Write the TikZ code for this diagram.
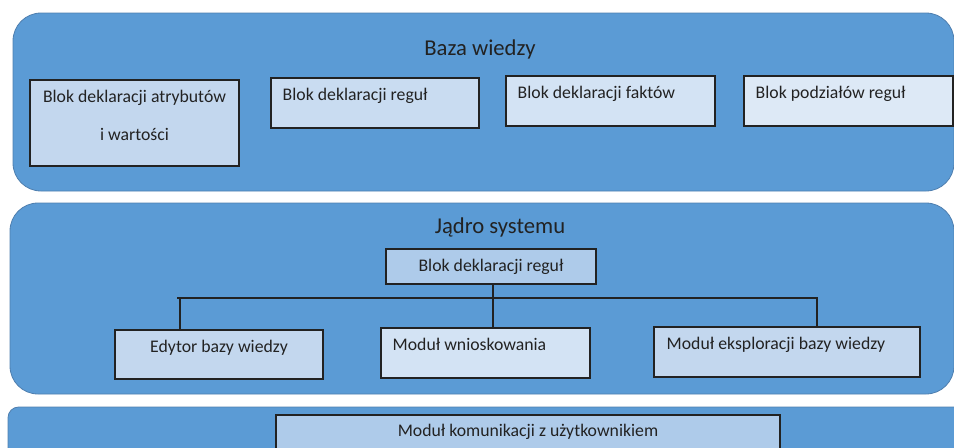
\documentclass[tikz,border=0pt]{standalone}
\usepackage{fontspec}
\setmainfont{Carlito}
\usepackage{tikz}
\usetikzlibrary{positioning}
\definecolor{panel}{HTML}{5B9BD5}
\definecolor{rim}{HTML}{4F7FAF}
\definecolor{ink}{HTML}{222222}
\definecolor{tintA}{HTML}{C3D7EE}
\definecolor{tintB}{HTML}{C9DCF1}
\definecolor{tintC}{HTML}{D3E3F4}
\definecolor{tintD}{HTML}{DDE9F6}
\definecolor{tintE}{HTML}{AECBEA}

\begin{document}
\begin{tikzpicture}[x=0.75pt,y=-0.75pt,font=\fontsize{13.3}{15}\selectfont,text=ink,
  layer/.style={draw=rim,line width=0.6pt,fill=panel,rounded corners=21pt},
  heading/.style={font=\fontsize{17}{20}\selectfont,inner sep=0pt,anchor=base},
  box/.style={draw=ink,line width=0.8pt,inner sep=0pt,minimum height=37.5pt},
  tag/.style={anchor=base west,inner sep=0pt,xshift=9pt,yshift=-17.5pt},
  ctag/.style={anchor=base,inner sep=0pt,yshift=-17.5pt},
  wire/.style={draw=ink,line width=0.8pt}]
  \useasboundingbox (0,0) rectangle (954,447);
  \clip (0,0) rectangle (954,447);
  % three layers, top to bottom
  \path[layer] (13,13) rectangle (954,191);
  \path[layer] (10,203) rectangle (954,394);
  \path[layer,rounded corners=8pt] (8,407) rectangle (990,480);
  % knowledge base
  \node[heading] (kb) at (480,55) {Baza wiedzy};
  \node[box,fill=tintA,minimum width=156.75pt,minimum height=64.5pt,
        label={[anchor=north,inner sep=0pt,yshift=-7.9pt,align=center,
                font=\fontsize{13.3}{28.5}\selectfont]north:Blok deklaracji atrybutów\\i wartości}]
       (attr) at (134.5,123) {};
  \node[box,fill=tintB,minimum width=156pt,label={[tag]north west:Blok deklaracji reguł}]
       (rules) at (375,103) {};
  \node[box,fill=tintC,minimum width=156.75pt,label={[tag]north west:Blok deklaracji faktów}]
       (facts) at (610.5,101) {};
  \node[box,fill=tintD,minimum width=156.75pt,label={[tag]north west:Blok podziałów reguł}]
       (split) at (848.5,101) {};
  % system core
  \node[heading] (core) at (500,233) {Jądro systemu};
  \node[box,fill=tintE,minimum width=157.5pt,minimum height=26.25pt] (crules) at (491,266.5)
       {Blok deklaracji reguł};
  \node[box,fill=tintA,minimum width=156pt,minimum height=36.75pt,
        label={[ctag]north:Edytor bazy wiedzy}]
       (editor) at (219,354.5) {};
  \node[box,fill=tintC,minimum width=156.75pt,label={[tag]north west:Moduł wnioskowania}]
       (infer) at (485.5,353) {};
  \node[box,fill=tintA,minimum width=199.5pt,label={[tag,xshift=0.75pt]north west:Moduł eksploracji bazy wiedzy}]
       (explore) at (787,352) {};
  % bus between the core modules
  \coordinate (tapL) at (180,298);
  \coordinate (tapR) at (817,298);
  \draw[wire] ([xshift=-2.25pt]tapL) -- ([xshift=0.75pt]tapR);
  \draw[wire] (editor.north -| tapL) -- (tapL);
  \draw[wire] (explore.north -| tapR) -- (tapR);
  \draw[wire] ([xshift=1.5pt]crules.south) -- ([xshift=1.5pt]crules.south |- infer.north);
  % user interface layer
  \node[box,fill=tintE,minimum width=378pt,label={[ctag,yshift=0.9pt]north:Moduł komunikacji z użytkownikiem}]
       (comm) at (528,440) {};
\end{tikzpicture}
\end{document}
